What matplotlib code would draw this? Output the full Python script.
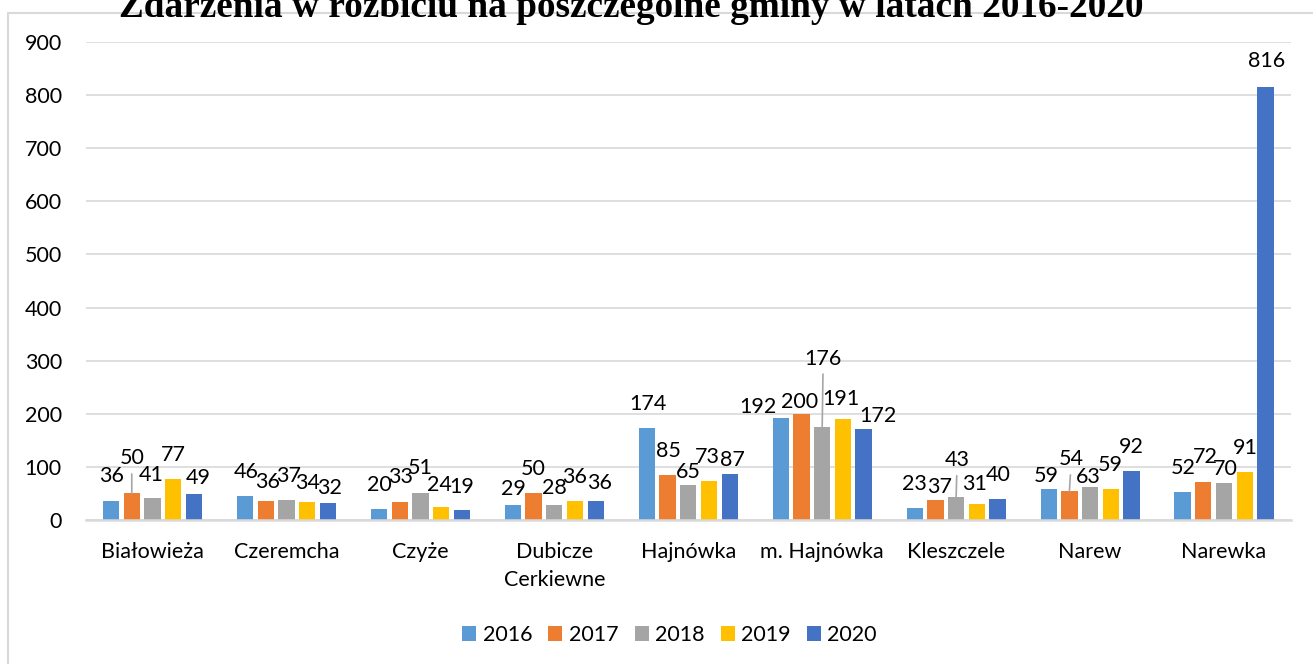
import matplotlib
matplotlib.use("Agg")
import matplotlib.pyplot as plt
import matplotlib.patches as mpatches
import numpy as np

# ---- data ----
categories = ["Białowieża", "Czeremcha", "Czyże", "Dubicze\nCerkiewne", "Hajnówka",
              "m. Hajnówka", "Kleszczele", "Narew", "Narewka"]
years = ["2016", "2017", "2018", "2019", "2020"]
v2016 = [36, 46, 20, 29, 174, 192, 23, 59, 52]
v2017 = [50, 36, 33, 50, 85, 200, 37, 54, 72]
v2018 = [41, 37, 51, 28, 65, 176, 43, 63, 70]
v2019 = [77, 34, 24, 36, 73, 191, 31, 59, 91]
v2020 = [49, 32, 19, 36, 87, 172, 40, 92, 816]
series = [v2016, v2017, v2018, v2019, v2020]
yticks = [0, 100, 200, 300, 400, 500, 600, 700, 800, 900]
title = "Zdarzenia w rozbiciu na poszczególne gminy w latach 2016-2020"

# ---- styling ----
colors = ["#5B9BD5", "#ED7D31", "#A5A5A5", "#FFC000", "#4472C4"]
# label offsets (pixels) per category, per series
label_offsets = [
    [(0, 25), (0, 35), (-1, 23), (0, 24), (4, 16)],
    [(1, 24), (2, 19), (2, 24), (0, 19), (2, 15)],
    [(0, 24), (1, 25), (0, 25), (-2, 22), (0, 23)],
    [(1, 16), (0, 24), (0, 17), (0, 24), (4, 18)],
    [(1, 24), (1, 24), (0, 13), (-2, 24), (3, 14)],
    [(-23, 11), (-2, 12), (1, 68), (-2, 20), (14, 13)],
    [(0, 24), (4, 13), (1, 37), (-2, 20), (1, 24)],
    [(-2, 13), (2, 32), (-2, 10), (-1, 24), (0, 24)],
    [(1, 24), (2, 25), (1, 14), (1, 24), (1, 26)],
]
leader = {(0, 1), (5, 2), (6, 2), (7, 1)}

FONT = "Lato"
FS = 15.5
W, H = 1313, 664
fig = plt.figure(figsize=(W / 100, H / 100), dpi=100)
fig.patch.set_facecolor("white")

# chart border
fig.patches.append(mpatches.Rectangle((8 / W, -0.05), 1.2, 1.05 - 13 / H,
                                      transform=fig.transFigure, fill=False,
                                      edgecolor="#d9d9d9", linewidth=1.5, zorder=0))

ax = fig.add_axes([85.5 / W, 144 / H, 1205.5 / W, 478 / H])
x = np.arange(len(categories))
stride = 0.1546
bw = 0.1217
for j, (vals, yr) in enumerate(zip(series, years)):
    xs = x + (j - 2) * stride
    ax.bar(xs, vals, width=bw, color=colors[j], label=yr, zorder=3)
    for i, v in enumerate(vals):
        dx, dy = label_offsets[i][j]
        kw = {}
        if (i, j) in leader:
            kw["arrowprops"] = dict(arrowstyle="-", color="#a6a6a6", lw=1.2,
                                    shrinkA=2, shrinkB=0)
        ax.annotate(str(v), xy=(xs[i], v), xytext=(dx, dy), textcoords="offset pixels",
                    ha="center", va="center", fontsize=FS, family=FONT,
                    color="#000000", zorder=5, **kw)

ax.set_xlim(-0.5, len(categories) - 0.5)
ax.set_ylim(0, 900)
ax.set_yticks(yticks)
ax.set_yticklabels([str(t) for t in yticks], fontsize=FS, family=FONT)
ax.set_xticks(x)
ax.set_xticklabels(categories, fontsize=FS, family=FONT, linespacing=1.5)
ax.tick_params(axis="both", length=0)
ax.tick_params(axis="y", pad=17)
ax.tick_params(axis="x", pad=16)
ax.grid(axis="y", color="#d9d9d9", linewidth=1.2, zorder=0)
ax.set_axisbelow(True)
for s in ["left", "right", "top"]:
    ax.spines[s].set_visible(False)
ax.spines["bottom"].set_color("#d9d9d9")
ax.spines["bottom"].set_linewidth(1.8)
ax.spines["bottom"].set_zorder(4)

leg = fig.legend(loc="center", bbox_to_anchor=(669.5 / W, 1 - 635 / H), ncol=5,
                 frameon=False, prop={"family": FONT, "size": FS},
                 handlelength=0.65, handleheight=0.65, handletextpad=0.3,
                 columnspacing=0.75, borderaxespad=0)

fig.text(631.5 / W, 1 - 17 / H, title, ha="center", va="baseline",
         fontsize=26.8, fontweight="bold", family="Liberation Serif")

fig.savefig("out.png", dpi=100)
